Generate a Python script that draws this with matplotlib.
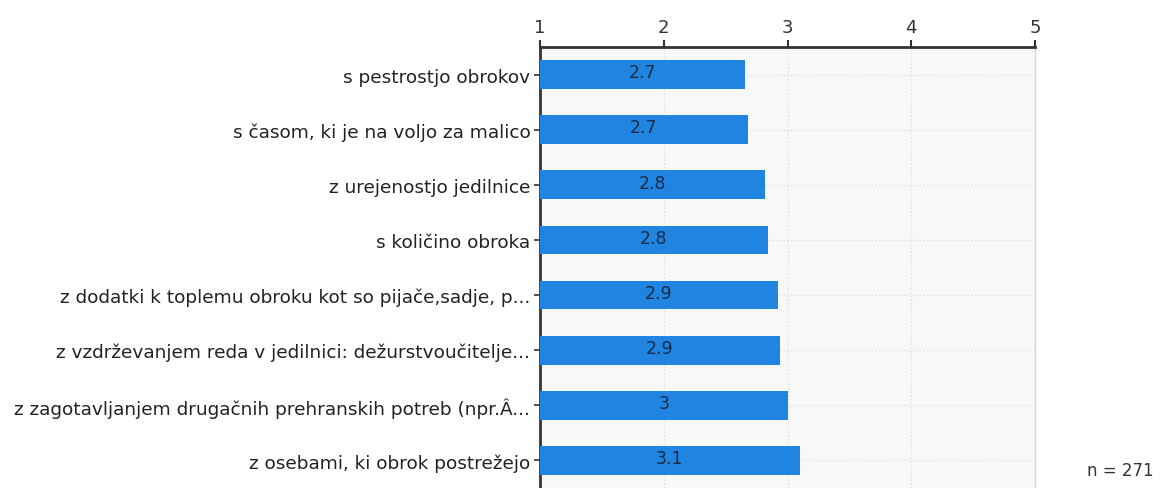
import matplotlib.pyplot as plt
import numpy as np

# podatki
labels = ['s pestrostjo obrokov',
          's časom, ki je na voljo za malico',
          'z urejenostjo jedilnice',
          's količino obroka',
          'z dodatki k toplemu obroku kot so pijače,sadje, p...',
          'z vzdrževanjem reda v jedilnici: dežurstvoučitelje...',
          'z zagotavljanjem drugačnih prehranskih potreb (npr.Â...',
          'z osebami, ki obrok postrežejo']
values = [2.66, 2.68, 2.82, 2.84, 2.92, 2.94, 3.0, 3.1]
value_text = ['2.7', '2.7', '2.8', '2.8', '2.9', '2.9', '3', '3.1']
xticks = [1, 2, 3, 4, 5]
n_text = 'n = 271'

plt.rcParams['font.family'] = ['DejaVu Sans']

fig = plt.figure(figsize=(11.61, 4.89), dpi=100)
ax = fig.add_axes([0.4651, 0.0, 0.4264, 0.9018])
ax.set_facecolor('#f8f8f8')

y = np.arange(len(labels))
ax.barh(y, np.array(values) - 1, left=1, height=0.52, color='#1f85e0', zorder=3)
for yi, v, t in zip(y, values, value_text):
    ax.text((1 + v) / 2, yi - 0.04, t, ha='center', va='center', fontsize=12.5,
            color='#1b2a47', zorder=4)

ax.set_xlim(1, 5)
ax.set_ylim(len(labels) - 0.5, -0.5)
ax.set_yticks(y)
ax.set_yticklabels(labels, fontsize=13.3, color='#222222')
ax.set_xticks(xticks)
ax.xaxis.tick_top()
ax.tick_params(axis='x', labelsize=13, colors='#333333', length=5, width=1.5, pad=3)
ax.tick_params(axis='y', length=4, width=1.2, color='#333333', pad=3)

ax.grid(True, axis='both', color='#dddddd', linestyle=':', linewidth=1, zorder=0)

ax.spines['bottom'].set_visible(False)
ax.spines['right'].set_color('#d8d8d8')
ax.spines['right'].set_linewidth(1)
ax.spines['left'].set_color('#333333')
ax.spines['left'].set_linewidth(2)
ax.spines['top'].set_color('#333333')
ax.spines['top'].set_linewidth(2)

fig.text(0.994, 0.018, n_text, ha='right', va='bottom', fontsize=12, color='#333333')

fig.savefig('out.png', dpi=100)
